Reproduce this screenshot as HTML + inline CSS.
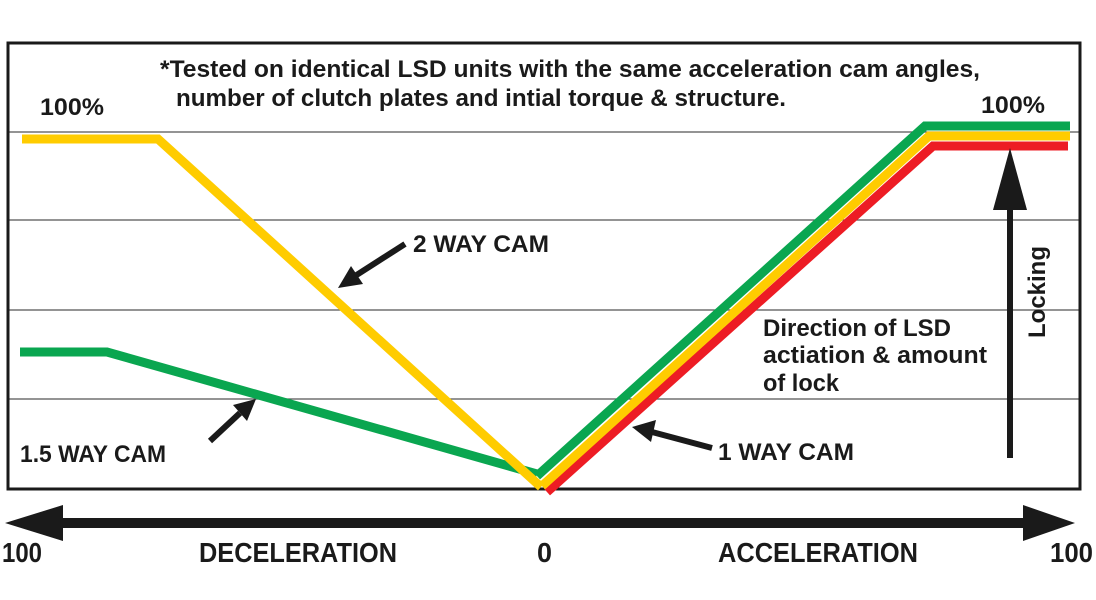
<!DOCTYPE html>
<html><head><style>html,body{margin:0;padding:0;background:#fff;}svg{display:block}</style></head>
<body>
<svg width="1096" height="600" viewBox="0 0 1096 600" xmlns="http://www.w3.org/2000/svg" font-family="'Liberation Sans Narrow','Liberation Sans',sans-serif" font-weight="bold" fill="#1a1a1a">
<g stroke="#555" stroke-width="1.2">
<line x1="8" y1="132" x2="1080" y2="132"/>
<line x1="8" y1="220" x2="1080" y2="220"/>
<line x1="8" y1="310" x2="1080" y2="310"/>
<line x1="8" y1="399" x2="1080" y2="399"/>
</g>
<rect x="8" y="43" width="1072" height="446" fill="none" stroke="#1a1a1a" stroke-width="3"/>
<g fill="none" stroke-width="9" stroke-linejoin="miter">
<polyline points="20,352 107,352 537,474" stroke="#0aa650"/>
<polyline points="547,492 933,146 1068,146" stroke="#ed1c24"/>
<polyline points="537,476 925,126 1070,126" stroke="#0aa650"/>
<polyline points="542,486 929,136 1070,136" stroke="#ffcc00"/>
<polyline points="22,139 158,139 541,487" stroke="#ffcc00"/>
</g>
<g stroke="#1a1a1a" stroke-width="6">
<line x1="405" y1="244" x2="355" y2="276"/>
<line x1="210" y1="441" x2="240" y2="413"/>
<line x1="712" y1="448" x2="652" y2="432"/>
<line x1="1010" y1="458" x2="1010" y2="200"/>
<line x1="55" y1="523" x2="1030" y2="523" stroke-width="10"/>
</g>
<polygon points="338,288 351,266 363,284" fill="#1a1a1a"/>
<polygon points="256,399 233,405 247,421" fill="#1a1a1a"/>
<polygon points="632,427 656,420 651,442" fill="#1a1a1a"/>
<polygon points="1010,148 993,210 1027,210" fill="#1a1a1a"/>
<polygon points="5,523 63,505 63,541" fill="#1a1a1a"/>
<polygon points="1075,523 1023,505 1023,541" fill="#1a1a1a"/>
<g font-size="24">
<text x="160" y="77" textLength="820" lengthAdjust="spacingAndGlyphs">*Tested on identical LSD units with the same acceleration cam angles,</text>
<text x="176" y="106" textLength="610" lengthAdjust="spacingAndGlyphs">number of clutch plates and intial torque &amp; structure.</text>
<text x="40" y="115" textLength="64" lengthAdjust="spacingAndGlyphs">100%</text>
<text x="981" y="113" textLength="64" lengthAdjust="spacingAndGlyphs">100%</text>
<text x="413" y="252" textLength="136" lengthAdjust="spacingAndGlyphs">2 WAY CAM</text>
<text x="20" y="462" textLength="146" lengthAdjust="spacingAndGlyphs">1.5 WAY CAM</text>
<text x="718" y="460" textLength="136" lengthAdjust="spacingAndGlyphs">1 WAY CAM</text>
<text x="763" y="336" textLength="188" lengthAdjust="spacingAndGlyphs">Direction of LSD</text>
<text x="763" y="363" textLength="224" lengthAdjust="spacingAndGlyphs">actiation &amp; amount</text>
<text x="763" y="391" textLength="76" lengthAdjust="spacingAndGlyphs">of lock</text>
<text transform="translate(1045,338) rotate(-90)" textLength="92" lengthAdjust="spacingAndGlyphs">Locking</text>
</g>
<g font-size="28">
<text x="2" y="562" textLength="40" lengthAdjust="spacingAndGlyphs">100</text>
<text x="199" y="562" textLength="198" lengthAdjust="spacingAndGlyphs">DECELERATION</text>
<text x="537" y="562" textLength="15" lengthAdjust="spacingAndGlyphs">0</text>
<text x="718" y="562" textLength="200" lengthAdjust="spacingAndGlyphs">ACCELERATION</text>
<text x="1050" y="562" textLength="43" lengthAdjust="spacingAndGlyphs">100</text>
</g>
</svg>
</body></html>
